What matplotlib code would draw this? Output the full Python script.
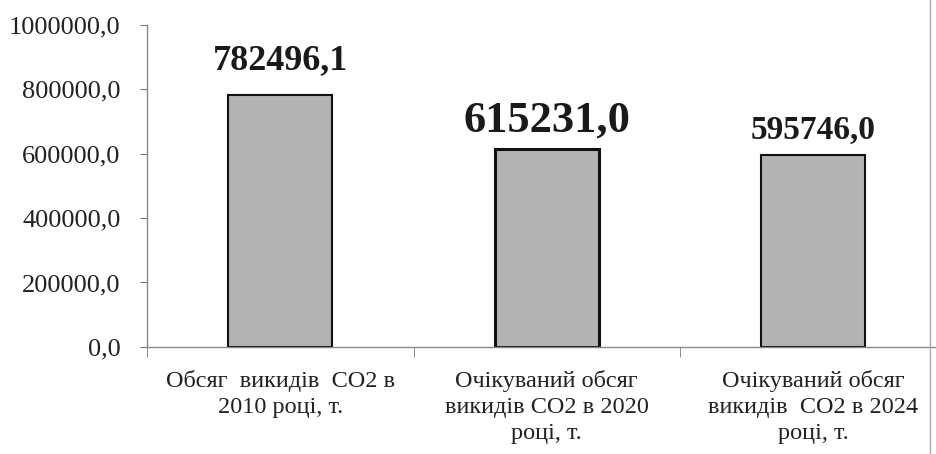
import matplotlib.pyplot as plt
from matplotlib.lines import Line2D
import numpy as np

plt.rcParams['font.family'] = ['Liberation Serif', 'DejaVu Serif']

categories = ['Обсяг  викидів  СО2 в\n2010 році, т.',
              'Очікуваний обсяг\nвикидів СО2 в 2020\nроці, т.',
              'Очікуваний обсяг\nвикидів  СО2 в 2024\nроці, т.']
values = [782496.1, 615231.0, 595746.0]
value_labels = ['782496,1', '615231,0', '595746,0']
label_sizes = [26, 32, 24]
label_offsets = [13, 6, 7]
edge_widths = [1.5, 2.2, 1.5]
yticks = [0, 200000, 400000, 600000, 800000, 1000000]

fig = plt.figure(figsize=(9.37, 4.54), dpi=100)
ax = fig.add_axes([0.157, 0.236, 0.853, 0.709])

x = np.arange(len(values))
bars = ax.bar(x, values, width=0.39, color='#b3b3b3', edgecolor='#111111')
for b, lw in zip(bars, edge_widths):
    b.set_linewidth(lw)

for xi, v, t, fs, off in zip(x, values, value_labels, label_sizes, label_offsets):
    ax.annotate(t, (xi, v), xytext=(0, off), textcoords='offset points',
                ha='center', va='bottom', fontsize=fs, fontweight='bold', color='#1a1a1a')

ax.set_ylim(0, 1000000)
ax.set_xlim(-0.5, 2.5)
ax.set_yticks(yticks)
ax.set_yticklabels([('%.1f' % v).replace('.', ',') for v in yticks], fontsize=19, color='#222222')
ax.set_xticks(x)
ax.set_xticklabels(categories, fontsize=17.5, color='#222222', linespacing=1.3)
ax.set_xticks([-0.5, 0.5, 1.5, 2.5], minor=True)
ax.tick_params(axis='x', which='major', length=0, pad=17)
ax.tick_params(axis='x', which='minor', length=7, color='#777777')
ax.tick_params(axis='y', length=5, color='#777777', pad=14)

for s in ['top', 'right']:
    ax.spines[s].set_visible(False)
for s in ['left', 'bottom']:
    ax.spines[s].set_color('#888888')
    ax.spines[s].set_linewidth(1)

# chart border on the right
fig.add_artist(Line2D([0.9925, 0.9925], [0, 1], color='#aaaaaa', lw=1))

fig.savefig('out.png', dpi=100, facecolor='white')
